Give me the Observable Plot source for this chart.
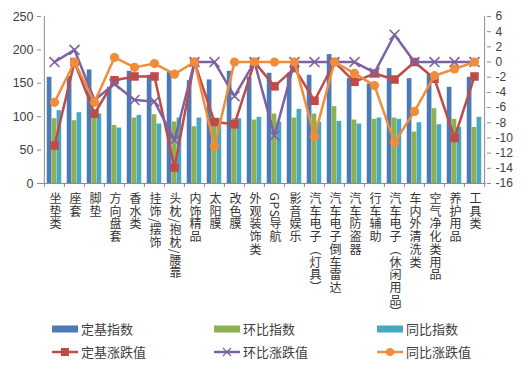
<!DOCTYPE html>
<html><head><meta charset="utf-8">
<script src="https://cdn.jsdelivr.net/npm/d3@7"></script>
<script src="https://cdn.jsdelivr.net/npm/@observablehq/plot@0.6"></script>
<style>
body{margin:0;background:#fff;}
#wrap{position:relative;width:522px;height:365px;overflow:hidden;font-family:"Noto Sans CJK SC","Noto Sans",sans-serif;}
#chart{position:absolute;left:0;top:0;}
.item{position:absolute;display:flex;align-items:center;font-size:13px;color:#404040;height:20px;line-height:20px;}
.item svg{margin-right:3px;}
</style></head><body>
<div id="wrap"><div id="chart"></div><div id="legend"></div></div>
<script>
const categories = ["坐垫类","座套","脚垫","方向盘套","香水类","挂饰/摆饰","头枕/抱枕/腰靠","内饰精品","太阳膜","改色膜","外观装饰类","GPS导航","影音娱乐","汽车电子（灯具）","汽车电子倒车雷达","汽车防盗器","行车辅助","汽车电子（休闲用品）","车内外清洗类","空气净化类用品","养护用品","工具类"];
const dingjiIndex = [159,160,170,144,168,162,166,154,155,168,159,165,165,162,193,157,149,172,157,164,144,159];
const huanbiIndex = [97,94,100,87,98,103,92,85,92,97,95,104,98,104,115,95,96,98,77,112,96,84];
const tongbiIndex = [109,106,104,83,102,89,98,98,97,97,99,92,111,92,93,89,98,96,91,88,84,99];
const dingjiChange = [-11,0,-6.8,-2.4,-1.9,-1.9,-13.9,0,-7.9,-8.2,0,-3.2,-0.8,-5.1,0,-2.6,-1.5,-2.3,0,-2.2,-10,-1.9];
const huanbiChange = [0,1.6,-5,-2.9,-5,-5.2,-10.3,0,0,-4.5,0,-9.7,0,0,0,0,-1.4,3.6,0,0,0,0];
const tongbiChange = [-5.3,0,-5.3,0.6,-0.7,-0.2,-1.6,0,-11.1,0,0,0,0,-9.8,0,-1.5,-3.1,-10.6,-6.5,-1.8,-0.9,0];
const leftTicks = [0,50,100,150,200,250];
const rightTicks = [-16,-14,-12,-10,-8,-6,-4,-2,0,2,4,6];
const seriesNames = ["定基指数","环比指数","同比指数","定基涨跌值","环比涨跌值","同比涨跌值"];
const colors = ["#4a7bb7","#8db150","#4aa7c2","#be4b48","#7d62a1","#f08c3a"];

const leftDomain = [0,250], rightDomain = [-16,6];
const toLeft = v => (v - rightDomain[0]) * (leftDomain[1]-leftDomain[0])/(rightDomain[1]-rightDomain[0]);
const fromLeft = v => v*(rightDomain[1]-rightDomain[0])/(leftDomain[1]-leftDomain[0]) + rightDomain[0];

const data = categories.map((c,i)=>({cat:c, a:dingjiIndex[i], b:huanbiIndex[i], c2:tongbiIndex[i],
  r:toLeft(dingjiChange[i]), p:toLeft(huanbiChange[i]), o:toLeft(tongbiChange[i])}));

const W=522, H=318, mL=41, mR=36, mT=16, mB=135;
const bw = (W-mL-mR)/categories.length;
const barW = 4.9;
const inset = (bw-barW)/2;
const axisColor = "#8c8c8c";
const last = categories[categories.length-1];
const numFont = '"Liberation Sans","DejaVu Sans",sans-serif';

const chart = Plot.plot({
  width: W, height: H, marginLeft: mL, marginRight: mR, marginTop: mT, marginBottom: mB,
  style: {fontFamily: '"Noto Sans CJK SC","Noto Sans",sans-serif', fontSize: "12.5px", color: "#404040", background: "#fff"},
  x: {type: "band", domain: categories, padding: 0, axis: null},
  y: {domain: leftDomain, axis: null},
  marks: [
    Plot.barY(data, {x: "cat", y: "a", fill: colors[0], insetLeft: inset, insetRight: inset, dx: -barW}),
    Plot.barY(data, {x: "cat", y: "b", fill: colors[1], insetLeft: inset, insetRight: inset}),
    Plot.barY(data, {x: "cat", y: "c2", fill: colors[2], insetLeft: inset, insetRight: inset, dx: barW}),
    Plot.ruleY([0], {stroke: axisColor}),
    Plot.ruleX([categories[0]], {y1: 0, y2: 250, dx: -bw/2, stroke: axisColor}),
    Plot.ruleX([last], {y1: 0, y2: 250, dx: bw/2, stroke: axisColor}),
    Plot.ruleX(categories, {y1: 0, y2: -6, dx: -bw/2, stroke: axisColor}),
    Plot.ruleX([last], {y1: 0, y2: -6, dx: bw/2, stroke: axisColor}),
    Plot.axisY(leftTicks, {anchor: "left", tickSize: 4, tickPadding: 4, stroke: axisColor, label: null, fill: "#404040",
      fontSize: 12.5, fontFamily: numFont}),
    Plot.axisY(rightTicks.map(toLeft), {anchor: "right", tickSize: 4, tickPadding: 5, stroke: axisColor, label: null, fill: "#404040",
      fontSize: 12, fontFamily: numFont, tickFormat: d => String(Math.round(fromLeft(d)))}),
    Plot.line(data, {x: "cat", y: "r", stroke: colors[3], strokeWidth: 2.5}),
    Plot.dot(data, {x: "cat", y: "r", symbol: "square", r: 4.8, fill: colors[3], stroke: null}),
    Plot.line(data, {x: "cat", y: "p", stroke: colors[4], strokeWidth: 2.5}),
    Plot.dot(data, {x: "cat", y: "p", symbol: "times", r: 4.6, stroke: colors[4], strokeWidth: 1.6}),
    Plot.line(data, {x: "cat", y: "o", stroke: colors[5], strokeWidth: 2.5}),
    Plot.dot(data, {x: "cat", y: "o", symbol: "circle", r: 4.6, fill: colors[5], stroke: null}),
    Plot.text(data, {x: "cat", text: "cat", frameAnchor: "bottom", dy: 9, dx: 1, textAnchor: "start",
      fontSize: 12, fill: "#333"})
  ]
});
document.getElementById("chart").appendChild(chart);
chart.querySelectorAll('g[aria-label="text"] text').forEach(t => {
  t.removeAttribute("dy");
  t.setAttribute("writing-mode", "tb");
  t.style.writingMode = "vertical-rl";
  t.style.letterSpacing = "0.7px";
  t.setAttribute("text-anchor", "start");
});

// legend
const legend = document.getElementById("legend");
const cols = [52, 214, 377];
const rows = [319, 342];
seriesNames.forEach((name, i) => {
  const col = i % 3, row = Math.floor(i / 3);
  const div = document.createElement("div");
  div.className = "item";
  div.style.left = cols[col] + "px";
  div.style.top = rows[row] + "px";
  let sw;
  if (row === 0) {
    sw = `<svg width="26" height="20"><rect x="0" y="6.5" width="26" height="7" fill="${colors[i]}"/></svg>`;
  } else {
    let marker = "";
    if (i === 3) marker = `<rect x="9" y="6" width="8" height="8" fill="${colors[i]}"/>`;
    if (i === 4) marker = `<path d="M9,6L17,14M17,6L9,14" stroke="${colors[i]}" stroke-width="1.2"/>`;
    if (i === 5) marker = `<circle cx="13" cy="10" r="4" fill="${colors[i]}"/>`;
    sw = `<svg width="26" height="20"><line x1="0" x2="26" y1="10" y2="10" stroke="${colors[i]}" stroke-width="2.5"/>${marker}</svg>`;
  }
  div.innerHTML = sw + `<span>${name}</span>`;
  legend.appendChild(div);
});
</script>
</body></html>
